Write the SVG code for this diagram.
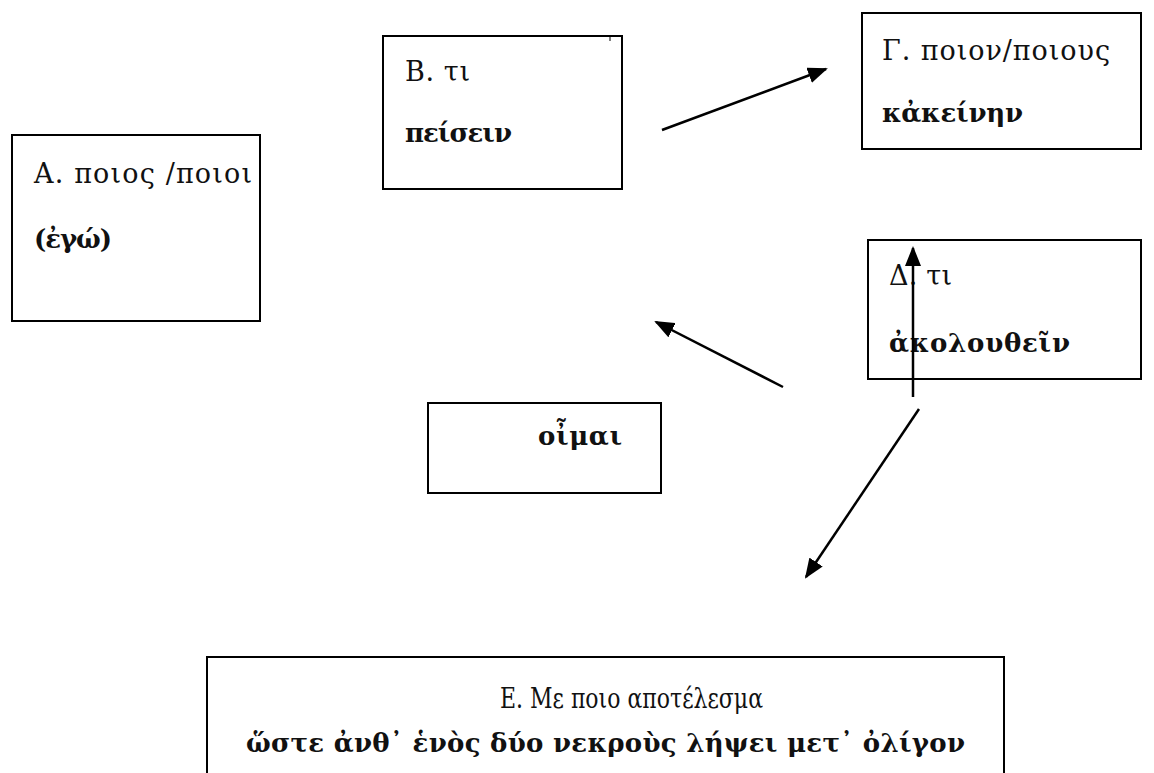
<svg xmlns="http://www.w3.org/2000/svg" width="1154" height="773" viewBox="0 0 1154 773">
<style>
.box{fill:#fff;stroke:#000;stroke-width:2}
.t{font-family:"DejaVu Serif","Liberation Serif",serif;font-size:27px;fill:#111}
.b{font-weight:bold;font-size:26px}
.c{stroke:#000;stroke-width:2.5;fill:none}
</style>
<defs>
<marker id="ah" markerUnits="userSpaceOnUse" markerWidth="20" markerHeight="16" viewBox="0 0 20 16" refX="18" refY="8" orient="auto">
<path d="M0,0 L20,8 L0,16 Z" fill="#000"/>
</marker>
</defs>
<rect width="1154" height="773" fill="#fff"/>
<g id="nodeA">
<rect class="box" x="12" y="135" width="248" height="186"/>
<text class="t" x="34" y="183" textLength="218" lengthAdjust="spacing">Α. ποιος /ποιοι</text>
<text class="t b" x="34" y="248" textLength="78" lengthAdjust="spacing">(ἐγώ)</text>
</g>
<g id="nodeB">
<rect class="box" x="383" y="36" width="239" height="153"/>
<line x1="610" y1="36" x2="610" y2="41" stroke="#000" stroke-width="1"/>
<text class="t" x="405" y="81" textLength="65" lengthAdjust="spacing">Β. τι</text>
<text class="t b" x="405" y="142" textLength="107" lengthAdjust="spacing">πείσειν</text>
</g>
<g id="nodeG">
<rect class="box" x="862" y="13" width="279" height="136"/>
<text class="t" x="882" y="60" textLength="228" lengthAdjust="spacing">Γ. ποιον/ποιους</text>
<text class="t b" x="882" y="122" textLength="141" lengthAdjust="spacing">κἀκείνην</text>
</g>
<g id="nodeD">
<rect class="box" x="868" y="240" width="273" height="139"/>
<text class="t" x="889" y="285" textLength="63" lengthAdjust="spacing">Δ. τι</text>
<text class="t b" x="889" y="352" textLength="181" lengthAdjust="spacing">ἀκολουθεῖν</text>
</g>
<g id="nodeO">
<rect class="box" x="428" y="403" width="233" height="90"/>
<text class="t b" x="538" y="445" textLength="84" lengthAdjust="spacing">οἶμαι</text>
</g>
<g id="nodeE">
<path class="box" d="M207,774 V657 H1004 V774"/>
<text class="t" x="500" y="708" font-size="24" textLength="263" lengthAdjust="spacingAndGlyphs">Ε. Με ποιο αποτέλεσμα</text>
<text class="t b" x="246" y="752" textLength="719" lengthAdjust="spacing">ὥστε ἀνθ᾽ ἑνὸς δύο νεκροὺς λήψει μετ᾽ ὀλίγον</text>
</g>
<g id="connectors">
<line class="c" x1="662" y1="130" x2="826" y2="69" marker-end="url(#ah)"/>
<line class="c" x1="913" y1="397" x2="913" y2="248" marker-end="url(#ah)"/>
<line class="c" x1="783" y1="387" x2="656" y2="322" marker-end="url(#ah)"/>
<line class="c" x1="919" y1="409" x2="806" y2="577" marker-end="url(#ah)"/>
</g>
</svg>
